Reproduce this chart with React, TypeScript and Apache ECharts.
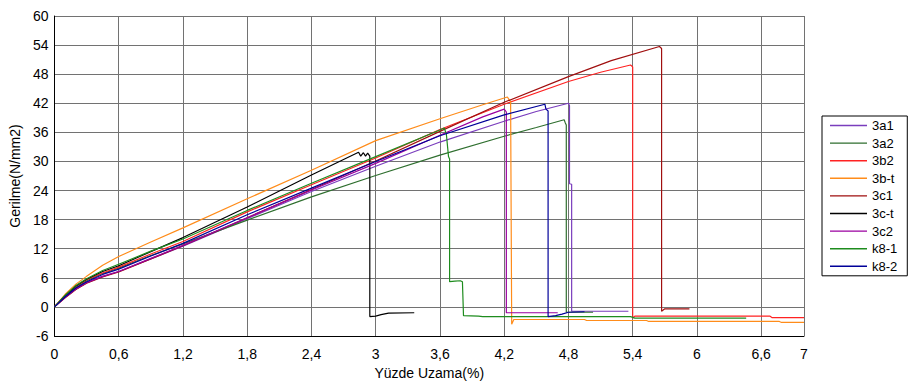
import React, { useEffect, useRef } from "react";
import * as echarts from "echarts";

type P = [number, number][];

const seriesNames = ["3a1", "3a2", "3b2", "3b-t", "3c1", "3c-t", "3c2", "k8-1", "k8-2"];
const seriesColors = ["#7a3dbd", "#2f6f2f", "#ff2222", "#ff8c1a", "#a00f0f", "#000000", "#9a00a0", "#1e8c1e", "#000099"];

const d3a1: P = [[0,0],[0.1,2.0],[0.2,3.7],[0.3,5.0],[0.45,6.3],[0.6,7.3],[0.9,9.9],[1.2,12.5],[1.8,18.2],[2.4,23.8],[3.0,29.0],[3.6,34.0],[4.2,38.3],[4.5,40.3],[4.8,42.0],[4.81,41.5],[4.81,25.4],[4.83,25.3],[4.83,-0.9],[5.36,-0.9]];
const d3a2: P = [[0,0],[0.1,2.2],[0.2,4.0],[0.3,5.4],[0.45,6.9],[0.6,8.0],[0.9,10.6],[1.2,13.0],[1.8,17.9],[2.4,22.7],[3.0,27.1],[3.6,31.3],[4.2,35.2],[4.5,37.0],[4.76,38.6],[4.77,38.0],[4.78,37.5],[4.78,-1.1],[5.03,-1.1]];
const d3b2: P = [[0,0],[0.1,2.3],[0.2,4.2],[0.3,5.6],[0.45,7.0],[0.6,8.2],[0.9,10.9],[1.2,13.5],[1.8,19.6],[2.4,25.2],[3.0,30.7],[3.6,36.6],[4.2,41.8],[4.8,46.5],[5.1,48.4],[5.38,49.9],[5.4,49.5],[5.4,-2.3],[5.42,-1.9],[6.68,-1.9],[6.7,-2.2],[7.0,-2.2]];
const d3bt: P = [[0,0],[0.1,2.6],[0.2,4.7],[0.3,6.3],[0.45,8.6],[0.6,10.4],[0.9,13.4],[1.2,16.3],[1.8,22.3],[2.4,28.2],[3.0,34.3],[3.6,38.8],[4.0,41.7],[4.23,43.3],[4.25,42.6],[4.26,42.4],[4.27,-3.6],[4.29,-2.6],[4.95,-2.6],[4.97,-2.8],[5.53,-2.8],[5.55,-3.0],[6.77,-3.0],[6.79,-3.2],[7.0,-3.2]];
const d3c1: P = [[0,0],[0.1,1.9],[0.2,3.6],[0.3,4.9],[0.45,6.2],[0.6,7.2],[0.9,9.9],[1.2,12.6],[1.8,18.4],[2.4,24.2],[3.0,30.1],[3.6,36.2],[4.2,42.2],[4.8,47.5],[5.2,50.8],[5.65,53.7],[5.67,53.3],[5.67,-0.9],[5.7,-0.4],[5.93,-0.4]];
const d3ct: P = [[0,0],[0.1,2.3],[0.2,4.3],[0.3,5.7],[0.45,7.3],[0.6,8.5],[0.9,11.4],[1.2,14.3],[1.8,20.6],[2.4,27.2],[2.84,31.9],[2.86,31.1],[2.885,31.8],[2.905,31.1],[2.925,31.7],[2.945,31.1],[2.945,-2.0],[3.0,-1.9],[3.05,-1.6],[3.12,-1.3],[3.36,-1.2]];
const d3c2: P = [[0,0],[0.1,2.0],[0.2,3.7],[0.3,5.0],[0.45,6.3],[0.6,7.3],[0.9,10.0],[1.2,12.7],[1.8,18.4],[2.4,24.1],[3.0,29.6],[3.6,35.4],[4.0,39.2],[4.2,40.8],[4.22,40.2],[4.22,-1.2],[4.7,-1.2]];
const dk81: P = [[0,0],[0.1,2.4],[0.2,4.4],[0.3,5.8],[0.45,7.5],[0.6,8.8],[0.9,11.5],[1.2,14.0],[1.8,19.9],[2.4,25.5],[3.0,31.0],[3.6,36.5],[3.64,36.9],[3.66,35.6],[3.68,31.0],[3.69,30.5],[3.69,5.2],[3.74,5.3],[3.79,5.4],[3.81,5.2],[3.82,-1.8],[3.96,-1.9],[4.0,-2.0],[5.38,-2.0],[5.42,-2.3],[6.46,-2.3]];
const dk82: P = [[0,0],[0.1,2.1],[0.2,3.9],[0.3,5.2],[0.45,6.7],[0.6,7.8],[0.9,10.5],[1.2,13.1],[1.8,19.0],[2.4,24.5],[3.0,30.0],[3.6,35.3],[4.2,39.6],[4.58,41.8],[4.59,40.8],[4.61,40.4],[4.61,-2.0],[4.68,-1.8],[4.74,-1.5],[4.8,-1.1],[4.95,-1.0]];

const allData: P[] = [d3a1, d3a2, d3b2, d3bt, d3c1, d3ct, d3c2, dk81, dk82];

const xMin = 0, xMax = 7, xStep = 0.6;
const yMin = -6, yMax = 60, yStep = 6;
const xTitle = "Yüzde Uzama(%)";
const yTitle = "Gerilme(N/mm2)";

// thin horizontal line icon for the legend (bounding box 37 x 12)
const lineIcon = "path://M0,0 L0.05,0 L0.05,0.05 Z M0,5.3 L37,5.3 L37,6.7 L0,6.7 Z M36.95,12 L37,12 L37,11.95 Z";

export default function App() {
  const ref = useRef<HTMLDivElement>(null);
  useEffect(() => {
    if (!ref.current) return;
    const chart = echarts.init(ref.current, null, { renderer: "svg" });
    const font = "Arial, 'Liberation Sans', sans-serif";
    chart.setOption({
      animation: false,
      backgroundColor: "#ffffff",
      textStyle: { fontFamily: font },
      grid: { left: 49, top: 16, width: 755, height: 320, containLabel: false },
      legend: {
        orient: "vertical",
        left: 822,
        top: 116,
        padding: [3, 10, 3, 8],
        itemGap: 4.6,
        itemWidth: 37,
        itemHeight: 12,
        icon: lineIcon,
        symbolKeepAspect: false,
        borderColor: "#000",
        borderWidth: 1,
        textStyle: { fontSize: 13, color: "#000", fontFamily: font, lineHeight: 12 },
        data: seriesNames,
      },
      xAxis: {
        type: "value",
        min: xMin,
        max: xMax,
        interval: xStep,
        name: xTitle,
        nameLocation: "middle",
        nameGap: 30,
        nameTextStyle: { fontSize: 14, color: "#000", fontFamily: font },
        axisLine: { onZero: false, lineStyle: { color: "#000", width: 1 } },
        axisTick: { show: false },
        axisLabel: {
          fontSize: 14,
          color: "#000",
          margin: 11,
          formatter: (v: number) => String(Math.round(v * 10) / 10).replace(".", ","),
        },
        splitLine: { show: true, lineStyle: { color: "#727272", width: 1 } },
      },
      yAxis: {
        type: "value",
        min: yMin,
        max: yMax,
        interval: yStep,
        name: yTitle,
        nameLocation: "middle",
        nameGap: 25,
        nameTextStyle: { fontSize: 14, color: "#000", fontFamily: font },
        axisLine: { show: true, onZero: false, lineStyle: { color: "#000", width: 1 } },
        axisTick: { show: false },
        axisLabel: { fontSize: 14, color: "#000", margin: 6 },
        splitLine: { show: true, lineStyle: { color: "#727272", width: 1 } },
      },
      series: seriesNames.map((name, i) => ({
        name,
        type: "line",
        data: allData[i],
        showSymbol: false,
        symbol: "none",
        color: seriesColors[i],
        itemStyle: { color: seriesColors[i] },
        lineStyle: { width: 1.2, color: seriesColors[i] },
      })),
    });
    return () => chart.dispose();
  }, []);
  return (
    <div
      ref={ref}
      style={{ position: "fixed", left: 0, top: 0, width: 911, height: 387, background: "#fff" }}
    />
  );
}
